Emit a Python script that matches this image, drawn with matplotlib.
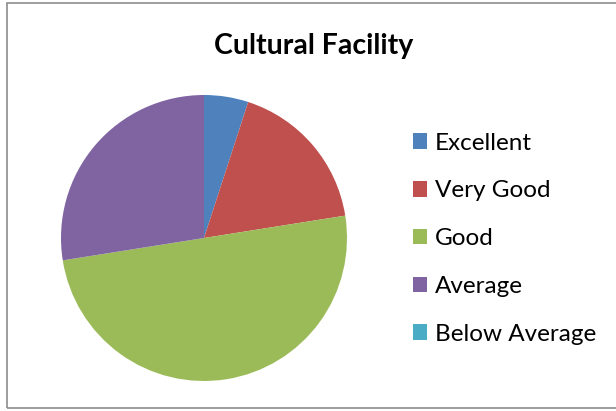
import matplotlib.pyplot as plt
from matplotlib.patches import Rectangle, Patch

# Survey responses for cultural facility
categories = ['Excellent', 'Very Good', 'Good', 'Average', 'Below Average']
counts = [2, 7, 20, 11, 0]
colors = ['#4F81BD', '#C0504D', '#9BBB59', '#8064A2', '#4BACC6']

plt.rcParams['font.family'] = ['Lato', 'DejaVu Sans']

fig = plt.figure(figsize=(6.16, 4.11), dpi=100)

# chart area border (Excel-style)
fig.patches.append(Rectangle((7 / 616, 3 / 411), 1.2, 405 / 411, transform=fig.transFigure,
                             fill=False, edgecolor='#8c8c8c', linewidth=1.2))

# pie axes, centred around (204, 238) px with radius ~143 px
ax = fig.add_axes([(204 - 143) / 616, 1 - (238 + 143) / 411, 286 / 616, 286 / 411])
ax.pie(counts, colors=colors, startangle=90, counterclock=False,
       wedgeprops={'linewidth': 0})
ax.set_xlim(-1, 1)
ax.set_ylim(-1, 1)
ax.set_aspect('equal')

fig.text(314 / 616, 1 - 46 / 411, 'Cultural Facility', ha='center', va='center',
         fontsize=20.5, fontweight='bold')

handles = [Patch(facecolor=c, edgecolor='none') for c in colors]
fig.legend(handles, categories, loc='upper left', bbox_to_anchor=(403 / 616, 1 - 123 / 411),
           frameon=False, fontsize=17.5, handlelength=0.6, handleheight=0.6,
           handletextpad=0.3, labelspacing=1.1, borderaxespad=0)

fig.savefig('out.png', dpi=100)
